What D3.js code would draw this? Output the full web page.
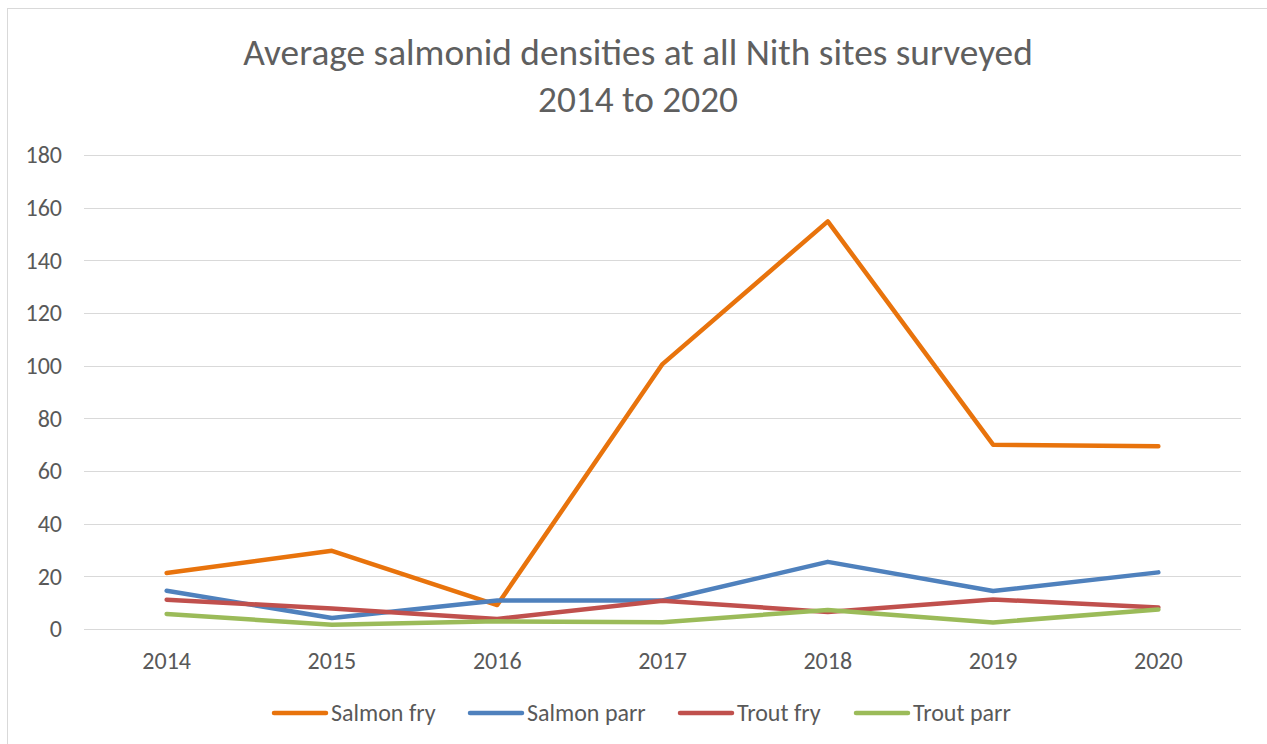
<!DOCTYPE html>
<html><head><meta charset="utf-8">
<script src="https://cdn.jsdelivr.net/npm/d3@7"></script>
<style>body{margin:0;background:#fff;} svg{display:block;}</style>
</head><body>
<svg id="c" width="1267" height="744"></svg>
<script>
const years = ["2014","2015","2016","2017","2018","2019","2020"];
const salmonFry  = [21.3, 29.7, 9.1, 100.6, 154.8, 70.0, 69.4];
const salmonParr = [14.5, 4.2, 10.8, 10.8, 25.5, 14.4, 21.5];
const troutFry   = [11.1, 7.8, 3.8, 10.7, 6.5, 11.2, 8.2];
const troutParr  = [5.7, 1.6, 2.9, 2.6, 7.2, 2.5, 7.4];
const yTicks = [0,20,40,60,80,100,120,140,160,180];
const seriesNames = ["Salmon fry","Salmon parr","Trout fry","Trout parr"];
const seriesColors = ["#E8730C","#4F81BD","#C0504D","#9BBB59"];
const seriesData = [salmonFry, salmonParr, troutFry, troutParr];
const titleLines = ["Average salmonid densities at all Nith sites surveyed","2014 to 2020"];

(function(){
const svg = d3.select("#c");
const font = "Calibri, Carlito, 'Open Sans', sans-serif";
const txt = "#595959";

svg.append("rect").attr("x",7.5).attr("y",8.5).attr("width",1300).attr("height",800)
  .attr("fill","#fff").attr("stroke","#d9d9d9").attr("stroke-width",1);

const pL = 84, pR = 1241, pT = 155, pB = 629;
const x = d3.scaleBand().domain(years).range([pL,pR]);
const y = d3.scaleLinear().domain([0,180]).range([pB,pT]);

svg.append("g").selectAll("line").data(yTicks).join("line")
  .attr("x1",pL).attr("x2",pR)
  .attr("y1",d=>Math.round(y(d))+0.5).attr("y2",d=>Math.round(y(d))+0.5)
  .attr("stroke","#d9d9d9").attr("stroke-width",1);

const yAxis = d3.axisLeft(y).tickValues(yTicks).tickSize(0).tickPadding(0);
const gy = svg.append("g").attr("transform",`translate(62,0)`).call(yAxis);
gy.select(".domain").remove();
gy.selectAll("text").attr("font-family",font).attr("font-size",24).attr("fill",txt).attr("dy","0.33em");

const xAxis = d3.axisBottom(x).tickSize(0).tickPadding(0);
const gx = svg.append("g").attr("transform",`translate(0,${pB+23})`).call(xAxis);
gx.select(".domain").remove();
gx.selectAll("text").attr("font-family",font).attr("font-size",24).attr("fill",txt);

const line = d3.line().x((d,i)=>x(years[i])+x.bandwidth()/2).y(d=>y(d));
svg.append("g").selectAll("path").data(seriesData).join("path")
  .attr("d",d=>line(d)).attr("fill","none")
  .attr("stroke",(d,i)=>seriesColors[i]).attr("stroke-width",4.5)
  .attr("stroke-linecap","round").attr("stroke-linejoin","round");

const tl = svg.append("g");
tl.selectAll("text").data(titleLines).join("text")
  .attr("x",638).attr("y",(d,i)=>65+i*47).attr("text-anchor","middle")
  .attr("font-family",font)
  .attr("font-size",32).attr("fill","#5f5f5f").text(d=>d);
const t0 = tl.select("text").node();
const w0 = t0.getComputedTextLength();
const fs = 32*790/w0;
tl.selectAll("text").attr("font-size",fs);

const legX = [272, 468, 678, 854];
const lg = svg.append("g");
seriesNames.forEach((n,i)=>{
  lg.append("line").attr("x1",legX[i]+2).attr("x2",legX[i]+54).attr("y1",713).attr("y2",713)
    .attr("stroke",seriesColors[i]).attr("stroke-width",4.5).attr("stroke-linecap","round");
  lg.append("text").attr("x",legX[i]+59).attr("y",721).attr("font-family",font)
    .attr("font-size",24).attr("fill",txt).text(n);
});
})();
</script>
</body></html>
